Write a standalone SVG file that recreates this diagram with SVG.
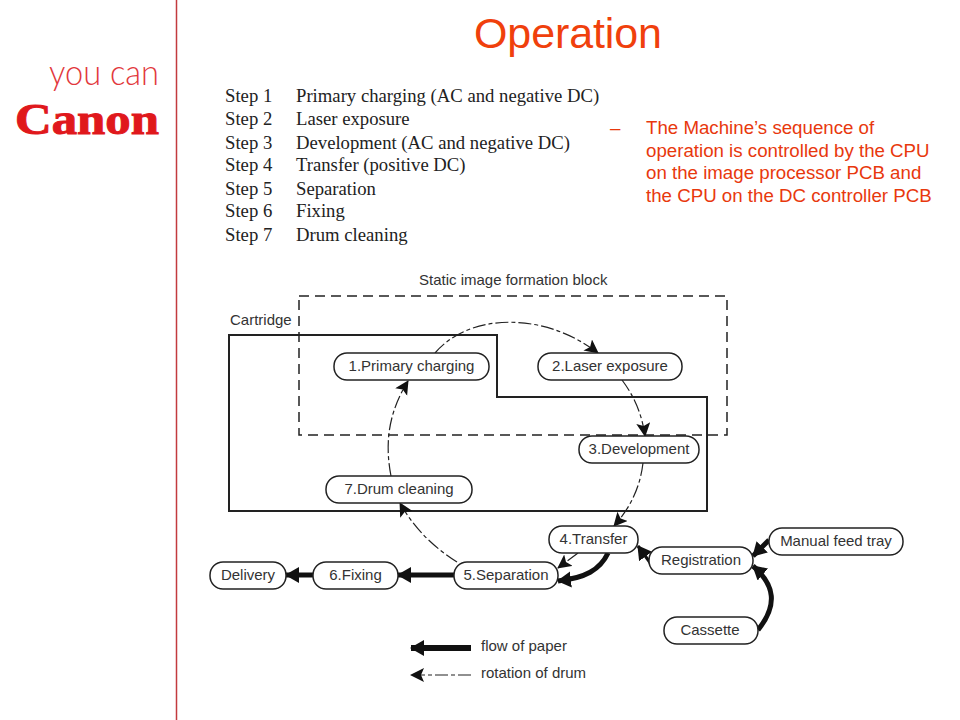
<svg xmlns="http://www.w3.org/2000/svg" width="960" height="720" viewBox="0 0 960 720">
<style>
.n rect{fill:#fff;stroke:#222;stroke-width:1.5}
.n text,.l{font-family:"Liberation Sans",Arial,sans-serif;font-size:15px;fill:#333;text-anchor:middle}
.l{text-anchor:start}
.s{font-family:"Liberation Serif","Times New Roman",serif;font-size:18.7px;fill:#222}
.r{font-family:"Liberation Sans",Arial,sans-serif;font-size:18.7px;fill:#e8380d}
.d{fill:none;stroke:#222;stroke-width:1.2;stroke-dasharray:13 3 4 3;marker-end:url(#a)}
.t{fill:none;stroke:#111;stroke-width:5;marker-end:url(#b)}
</style>
<defs>
<marker id="a" markerUnits="userSpaceOnUse" markerWidth="16" markerHeight="16" refX="13" refY="7" orient="auto"><path d="M0 0L14 7L0 14L3 7Z" fill="#111"/></marker>
<marker id="b" markerUnits="userSpaceOnUse" markerWidth="18" markerHeight="18" refX="13" refY="8" orient="auto"><path d="M0 0L14 8L0 16Z" fill="#111"/></marker>
</defs>
<rect width="960" height="720" fill="#fff"/>
<path d="M176.5 0V720" stroke="#c23a3e" stroke-width="1.5"/>
<text x="49" y="85" font-family="Lato,'Open Sans',sans-serif" font-weight="300" font-size="35" fill="#e2383c" textLength="110" lengthAdjust="spacingAndGlyphs">you can</text>
<text x="15" y="134" font-family="'Liberation Serif',serif" font-weight="700" font-size="44" fill="#e0181c" stroke="#e0181c" stroke-width="1" textLength="144" lengthAdjust="spacingAndGlyphs">Canon</text>
<text x="474" y="48" font-family="'Liberation Sans',Arial,sans-serif" font-size="43" fill="#f0400c" textLength="188">Operation</text>
<g class="s">
<text x="225" y="102">Step 1</text><text x="296" y="102">Primary charging (AC and negative DC)</text>
<text x="225" y="125">Step 2</text><text x="296" y="125">Laser exposure</text>
<text x="225" y="149">Step 3</text><text x="296" y="149">Development (AC and negative DC)</text>
<text x="225" y="171">Step 4</text><text x="296" y="171">Transfer (positive DC)</text>
<text x="225" y="195">Step 5</text><text x="296" y="195">Separation</text>
<text x="225" y="217">Step 6</text><text x="296" y="217">Fixing</text>
<text x="225" y="241">Step 7</text><text x="296" y="241">Drum cleaning</text>
</g>
<g class="r">
<text x="610" y="134">–</text>
<text x="646" y="134">The Machine’s sequence of</text>
<text x="646" y="157">operation is controlled by the CPU</text>
<text x="646" y="179">on the image processor PCB and</text>
<text x="646" y="202">the CPU on the DC controller PCB</text>
</g>
<text class="l" x="419" y="285">Static image formation block</text>
<text class="l" x="230" y="325">Cartridge</text>
<rect x="299" y="296" width="428" height="139" fill="none" stroke="#222" stroke-width="1.5" stroke-dasharray="10 6"/>
<path d="M229 335H497V397H707V511H229Z" fill="none" stroke="#222" stroke-width="2"/>
<g id="connectors">
<path class="d" d="M435 353C470 312 545 312 598 353"/>
<path class="d" d="M622 380C634 396 642 414 645 436"/>
<path class="d" d="M643 463C640 488 630 508 614 526"/>
<path class="d" d="M457 562C435 548 415 530 400 503"/>
<path class="d" d="M391 476C384 440 390 410 408 381"/>
<path class="d" d="M578 553L558 568"/>
<path class="t" d="M608 553C600 570 585 578 558 581"/>
<path class="t" style="stroke-width:3" d="M651 564L638 546"/>
<path class="t" d="M769 540L753 556"/>
<path class="t" d="M758 630C778 605 775 585 753 566"/>
<path class="t" d="M454 575H398"/>
<path class="t" d="M313 575H286"/>
<path class="t" style="stroke-width:6" d="M471 648H411"/>
<path class="d" d="M471 675H411"/>
</g>
<g id="n1" class="n"><rect x="334" y="353" width="155" height="27" rx="13"/><text x="411.500" y="371">1.Primary charging</text></g>
<g id="n2" class="n"><rect x="538" y="353" width="144" height="27" rx="13"/><text x="610" y="371">2.Laser exposure</text></g>
<g id="n3" class="n"><rect x="579" y="436" width="120" height="27" rx="13"/><text x="639" y="454">3.Development</text></g>
<g id="n7" class="n"><rect x="326" y="476" width="146" height="27" rx="13"/><text x="399" y="494">7.Drum cleaning</text></g>
<g id="n4" class="n"><rect x="549" y="526" width="89" height="27" rx="13"/><text x="593.500" y="544">4.Transfer</text></g>
<g id="reg" class="n"><rect x="649" y="547" width="104" height="27" rx="13"/><text x="701" y="565">Registration</text></g>
<g id="manual" class="n"><rect x="769" y="528" width="134" height="27" rx="13"/><text x="836" y="546">Manual feed tray</text></g>
<g id="n5" class="n"><rect x="454" y="562" width="104" height="27" rx="13"/><text x="506" y="580">5.Separation</text></g>
<g id="n6" class="n"><rect x="313" y="562" width="85" height="27" rx="13"/><text x="355.500" y="580">6.Fixing</text></g>
<g id="delivery" class="n"><rect x="210" y="562" width="76" height="27" rx="13"/><text x="248" y="580">Delivery</text></g>
<g id="cassette" class="n"><rect x="664" y="617" width="94" height="27" rx="13"/><text x="710" y="635">Cassette</text></g>
<text class="l" x="481" y="651">flow of paper</text>
<text class="l" x="481" y="678">rotation of drum</text>
</svg>
